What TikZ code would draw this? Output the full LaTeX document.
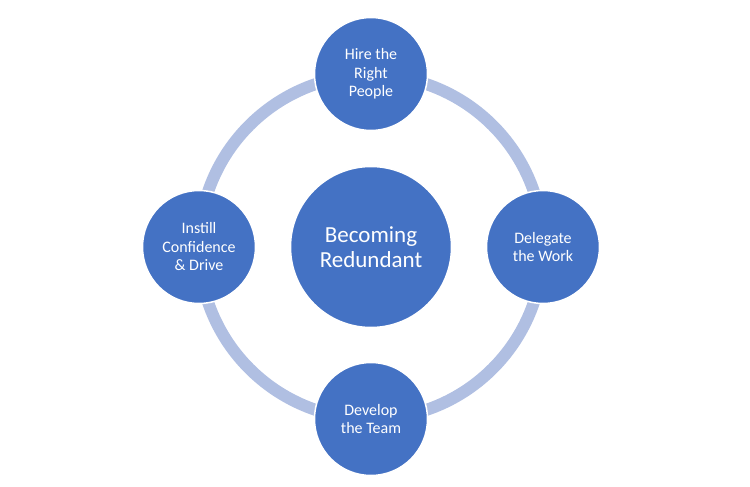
\documentclass[tikz,border=0pt]{standalone}
\usepackage{fontspec}
\setmainfont{Carlito}
\definecolor{nodeblue}{RGB}{68,114,196}
\definecolor{ringblue}{RGB}{176,191,226}
\begin{document}
\begin{tikzpicture}[x=1pt,y=-1pt,
  small/.style={circle,fill=nodeblue,draw=white,line width=1.5pt,minimum size=113pt,inner sep=0pt,
    text=white,align=center,font=\fontsize{16}{18.5}\selectfont},
  big/.style={circle,fill=nodeblue,draw=white,line width=1.5pt,minimum size=161pt,inner sep=0pt,
    text=white,align=center,font=\fontsize{23}{25}\selectfont},
  ring/.style={draw=ringblue,line width=12pt}]
\useasboundingbox (0,0) rectangle (750,487);
\coordinate (c) at (371,247);
\draw[ring] (c) circle[radius=172];
\node[big] (center) at (c) {Becoming\\Redundant};
\node[small] (top) at (371,74) {Hire the\\Right\\People};
\node[small] (right) at (543,247) {Delegate\\the Work};
\node[small] (bottom) at (371,419) {Develop\\the Team};
\node[small] (left) at (199,247) {Instill\\Confidence\\\& Drive};
\end{tikzpicture}
\end{document}
